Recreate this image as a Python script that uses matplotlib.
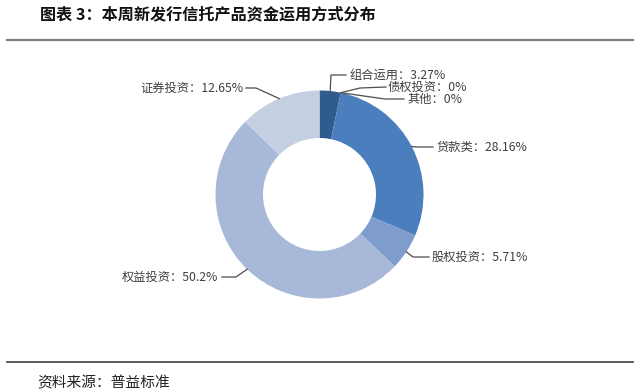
import matplotlib
matplotlib.use("Agg")
import matplotlib.pyplot as plt
from matplotlib.lines import Line2D
import math

plt.rcParams['font.family'] = ['Noto Sans CJK SC', 'DejaVu Sans']

# ---- data ----
categories = ["组合运用", "债权投资", "其他", "贷款类", "股权投资", "权益投资", "证券投资"]
values = [3.27, 0, 0, 28.16, 5.71, 50.2, 12.65]
title_text = "图表 3：本周新发行信托产品资金运用方式分布"
source_text = "资料来源：普益标准"

# ---- styles / layout ----
colors = ["#2F5B8D", "#3E6BA6", "#3E6BA6", "#4A7EBC", "#7E9CCC", "#A7B8D8", "#C5CFE2"]
W, H = 640, 392
cx, cy_px = 319.5, 194.5
R, r_in = 104, 56.5
# leader geometry (pixel coords): elbow, end, text x, text y, alignment
leaders = [
    ((331, 75), (346, 75), 349, 75, "left"),
    ((360, 88), (386, 87), 388, 87, "left"),
    ((385, 99), (404, 99), 407, 99, "left"),
    ((416, 147), (433, 147), 437, 147, "left"),
    ((413, 257), (429, 257), 432, 257, "left"),
    ((236, 277), (222, 277), 218, 277, "right"),
    ((256, 88), (246, 88), 243, 88, "right"),
]

fig = plt.figure(figsize=(W / 100, H / 100), dpi=100)
ax = fig.add_axes([0, 0, 1, 1])


def py(y):
    return H - y


wedges, _ = ax.pie(values, colors=colors, startangle=90, counterclock=False,
                   center=(cx, py(cy_px)), radius=R, frame=True,
                   wedgeprops=dict(width=R - r_in, linewidth=0))
ax.set_aspect('equal')
ax.set_xlim(0, W)
ax.set_ylim(0, H)
ax.axis('off')

for w, name, v, (elbow, end, tx, ty, ha) in zip(wedges, categories, values, leaders):
    mid = math.radians((w.theta1 + w.theta2) / 2)
    sx = cx + R * math.cos(mid)
    sy = py(cy_px) + R * math.sin(mid)
    ax.add_line(Line2D([sx, elbow[0], end[0]], [sy, py(elbow[1]), py(end[1])],
                       color="#4d4d4d", lw=0.9))
    ax.text(tx, py(ty), f"{name}：{v:g}%", ha=ha, va="center",
            fontsize=8.8, color="#404040")

# title and rules
ax.text(40, py(14), title_text, ha="left", va="center", fontsize=11.6,
        fontweight="bold", color="#111111")
ax.add_line(Line2D([7, 633], [py(40), py(40)], color="#7f7f7f", lw=1.6))
ax.add_line(Line2D([7, 633], [py(362), py(362)], color="#404040", lw=1.2))
ax.text(37, py(383), source_text, ha="left", va="center", fontsize=10.6,
        color="#222222")

fig.savefig("out.png", dpi=100)
